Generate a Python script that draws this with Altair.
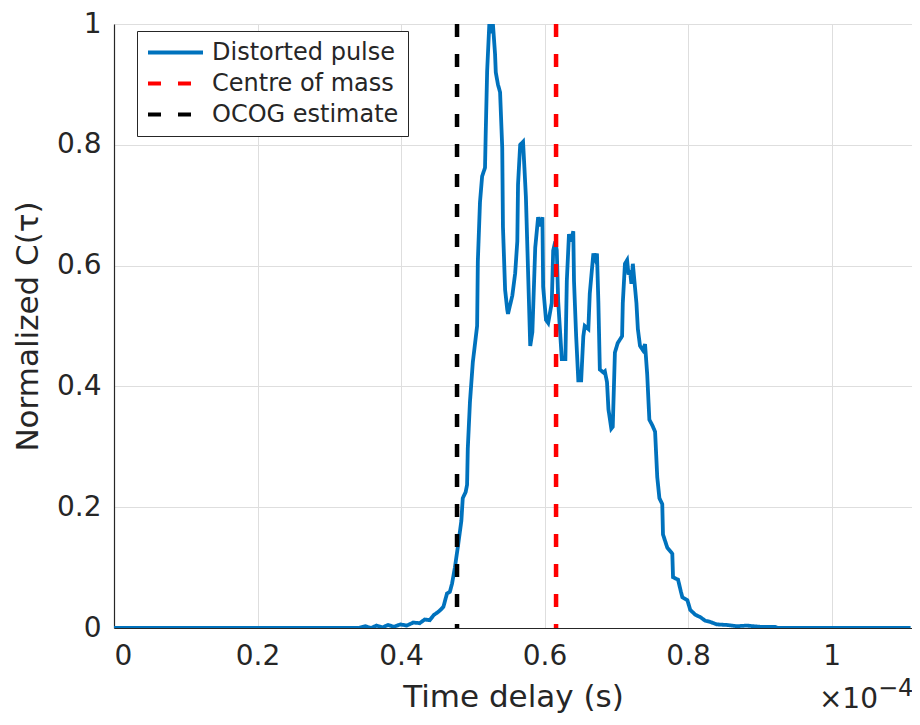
import altair as alt
import pandas as pd

# Time delay in units of 1e-4 s, normalized correlation
t_pulse = [0.000, 0.340, 0.350, 0.358, 0.366, 0.374, 0.382, 0.390, 0.399, 0.408,
           0.417, 0.426, 0.433, 0.440, 0.446, 0.450, 0.455, 0.459, 0.464, 0.468,
           0.471, 0.475, 0.479, 0.484, 0.486, 0.490, 0.492, 0.493, 0.496, 0.500,
           0.503, 0.506, 0.507, 0.510, 0.513, 0.517, 0.518, 0.520, 0.523, 0.526,
           0.528, 0.531, 0.532, 0.535, 0.538, 0.541, 0.542, 0.545, 0.548, 0.549,
           0.552, 0.555, 0.559, 0.562, 0.563, 0.566, 0.570, 0.572, 0.574, 0.577,
           0.580, 0.583, 0.587, 0.591, 0.594, 0.597, 0.598, 0.602, 0.605, 0.610,
           0.612, 0.615, 0.617, 0.619, 0.622, 0.624, 0.629, 0.631, 0.634, 0.637,
           0.640, 0.641, 0.644, 0.647, 0.651, 0.654, 0.656, 0.661, 0.663, 0.668,
           0.671, 0.673, 0.675, 0.677, 0.682, 0.684, 0.687, 0.689, 0.693, 0.695,
           0.698, 0.702, 0.708, 0.709, 0.712, 0.715, 0.717, 0.719, 0.721, 0.723,
           0.728, 0.730, 0.733, 0.737, 0.740, 0.743, 0.746, 0.750, 0.754, 0.757,
           0.760, 0.764, 0.765, 0.771, 0.778, 0.779, 0.786, 0.790, 0.792, 0.799,
           0.803, 0.810, 0.817, 0.824, 0.831, 0.840, 0.854, 0.868, 0.882, 0.900,
           0.921, 0.925, 1.110]
c_pulse = [0.000, 0.000, 0.003, 0.000, 0.004, 0.001, 0.005, 0.002, 0.006, 0.004,
           0.009, 0.008, 0.014, 0.013, 0.022, 0.025, 0.030, 0.035, 0.057, 0.060,
           0.073, 0.100, 0.133, 0.177, 0.215, 0.225, 0.237, 0.297, 0.374, 0.440,
           0.470, 0.500, 0.607, 0.705, 0.748, 0.762, 0.820, 0.923, 1.000, 0.985,
           1.000, 0.950, 0.920, 0.900, 0.887, 0.795, 0.664, 0.560, 0.527, 0.520,
           0.535, 0.550, 0.587, 0.640, 0.734, 0.800, 0.805, 0.760, 0.713, 0.590,
           0.467, 0.490, 0.630, 0.680, 0.665, 0.680, 0.565, 0.510, 0.505, 0.538,
           0.625, 0.640, 0.625, 0.540, 0.483, 0.445, 0.445, 0.575, 0.652, 0.640,
           0.657, 0.575, 0.483, 0.410, 0.410, 0.483, 0.500, 0.495, 0.554, 0.620,
           0.610, 0.620, 0.538, 0.428, 0.423, 0.425, 0.407, 0.362, 0.330, 0.333,
           0.456, 0.472, 0.483, 0.538, 0.603, 0.609, 0.585, 0.592, 0.570, 0.603,
           0.538, 0.495, 0.467, 0.460, 0.470, 0.420, 0.345, 0.336, 0.325, 0.250,
           0.215, 0.205, 0.155, 0.133, 0.123, 0.084, 0.080, 0.060, 0.051, 0.046,
           0.030, 0.022, 0.018, 0.012, 0.010, 0.006, 0.005, 0.003, 0.004, 0.002,
           0.002, 0.000, 0.000]

marker_names = ["Centre of mass", "OCOG estimate"]
marker_times = [0.616, 0.478]

series_names = ["Distorted pulse", "Centre of mass", "OCOG estimate"]
series_colors = ["#0072BD", "#FF0000", "#000000"]
series_dashes = [[1, 0], [13, 17], [13, 17]]

x_ticks = [0, 0.2, 0.4, 0.6, 0.8, 1.0]
y_ticks = [0, 0.2, 0.4, 0.6, 0.8, 1.0]
x_max = 1.112

FONT = "DejaVu Sans"
TXT = "#262626"

pulse_df = pd.DataFrame({"t": t_pulse, "c": c_pulse, "series": "Distorted pulse"})
marker_df = pd.DataFrame({"t": marker_times, "series": marker_names})
exp_df = pd.DataFrame({"t": [x_max], "c": [0.0]})

color = alt.Color(
    "series:N",
    scale=alt.Scale(domain=series_names, range=series_colors),
    legend=alt.Legend(
        title=None, orient="none", legendX=23, legendY=7,
        symbolType="stroke", symbolSize=3025, symbolStrokeWidth=4,
        clipHeight=25,
        labelFont=FONT, labelFontSize=24, labelColor=TXT, labelOffset=7,
        labelLimit=400, rowPadding=6, padding=9,
        strokeColor="#262626", fillColor="white",
    ),
)
dash = alt.StrokeDash(
    "series:N",
    scale=alt.Scale(domain=series_names, range=series_dashes),
    legend=alt.Legend(title=None),
)

xenc = alt.X(
    "t:Q",
    scale=alt.Scale(domain=[0, x_max], nice=False, zero=False),
    axis=alt.Axis(values=x_ticks, format="~g", title="Time delay (s)"),
)

pulse = alt.Chart(pulse_df).mark_line(strokeWidth=3.8, clip=True).encode(
    x=xenc,
    y=alt.Y("c:Q", scale=alt.Scale(domain=[0, 1], nice=False),
            axis=alt.Axis(values=y_ticks, format="~g", title="Normalized C(τ)")),
    color=color,
    strokeDash=dash,
)

markers = alt.Chart(marker_df).mark_rule(strokeWidth=4.5).encode(
    x=alt.X("t:Q"),
    color=color,
    strokeDash=dash,
)

exp_base = alt.Chart(exp_df).encode(x=alt.X("t:Q"), y=alt.Y("c:Q"))
exp_main = exp_base.mark_text(
    text="×10", font=FONT, fontSize=28, color=TXT, align="right",
    baseline="alphabetic", dx=-34, dy=80,
)
exp_sup = exp_base.mark_text(
    text="−4", font=FONT, fontSize=24, color=TXT, align="left",
    baseline="alphabetic", dx=-34, dy=68,
)

chart = alt.layer(pulse, markers, exp_main, exp_sup).properties(
    width=798, height=604,
    autosize=alt.AutoSizeParams(type="none"),
    padding={"left": 106, "top": 16, "right": 0, "bottom": 89},
).configure_view(stroke=None).configure_axis(
    labelFont=FONT, labelFontSize=28, labelColor=TXT,
    titleFont=FONT, titleFontSize=31, titleColor=TXT, titleFontWeight="normal",
    domainColor=TXT, domainWidth=1.2, ticks=False,
    gridColor="#dedede", gridWidth=1,
).configure_axisX(
    labelPadding=14, titlePadding=12,
).configure_axisY(
    labelPadding=13, titlePadding=12,
)

chart.save("out.html", embed_options={"renderer": "svg", "actions": False})
